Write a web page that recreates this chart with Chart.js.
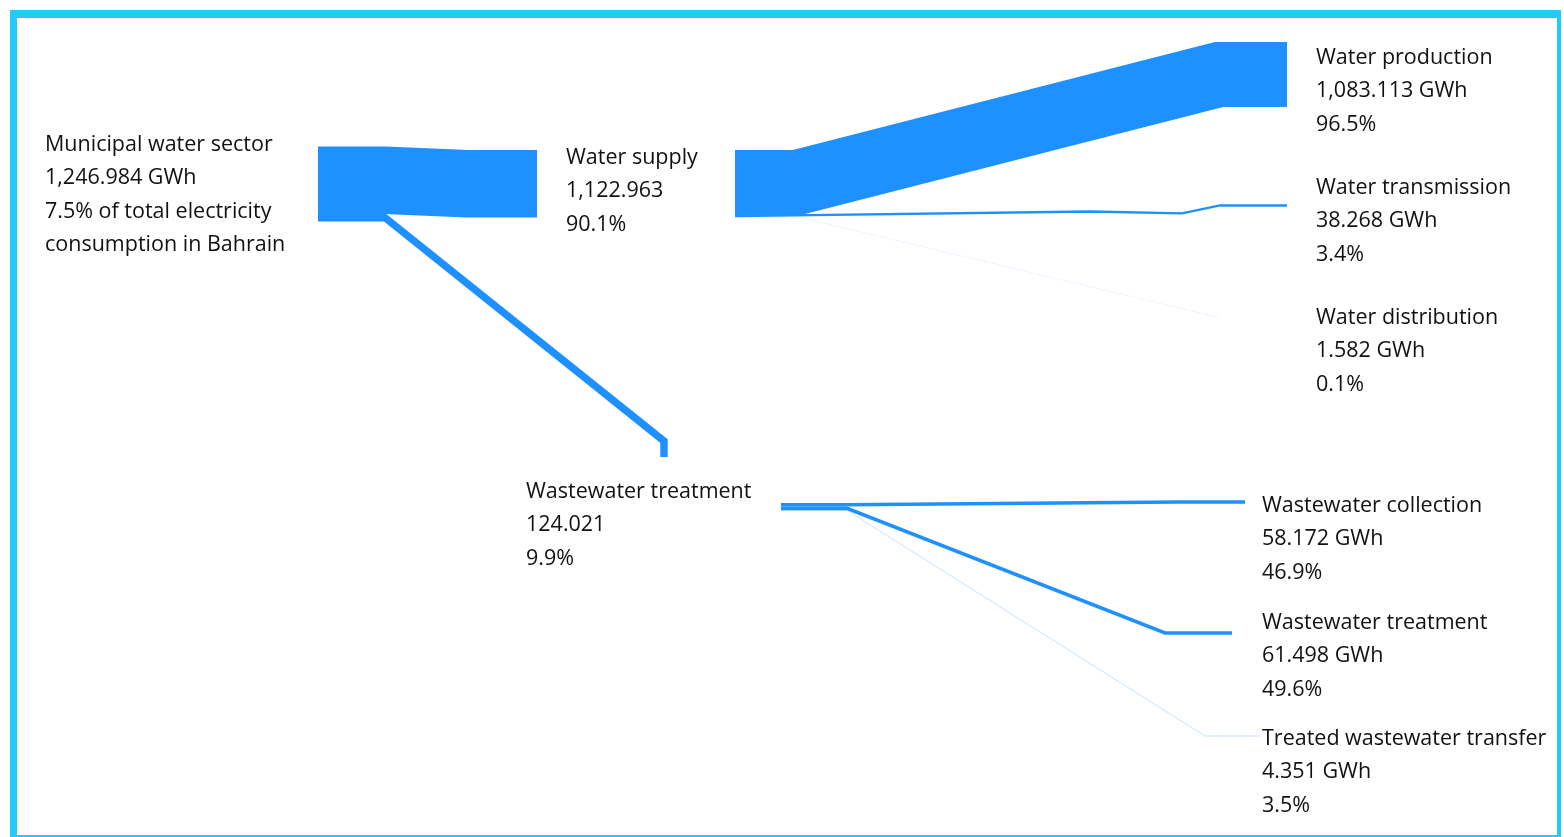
<!DOCTYPE html>
<html>
<head>
<meta charset="utf-8">
<script src="https://cdn.jsdelivr.net/npm/chart.js@4.4.0/dist/chart.umd.min.js"></script>
<style>
    html, body { margin: 0; padding: 0; background: #ffffff; overflow: hidden; }
    #wrap { position: relative; width: 1564px; height: 837px; }
    #frame {
        position: absolute; left: 10px; top: 10px; width: 1540px; height: 817px;
        border-style: solid; border-color: #22ccf8;
        border-width: 8px 4px 3px 7px;
    }
    #chart { position: absolute; left: 0; top: 0; }
</style>
</head>
<body>
<div id="wrap">
    <div id="frame"></div>
    <canvas id="chart" width="1564" height="837"></canvas>
</div>
<script>
// nodes of the flow diagram
const nodeNames = ["Municipal water sector", "Water supply", "Wastewater treatment",
                   "Water production", "Water transmission", "Water distribution",
                   "Wastewater collection", "Wastewater treatment", "Treated wastewater transfer"];
const nodeValues = [1246.984, 1122.963, 124.021, 1083.113, 38.268, 1.582, 58.172, 61.498, 4.351];
const nodeUnits = [" GWh", "", "", " GWh", " GWh", " GWh", " GWh", " GWh", " GWh"];
const nodeShares = [["7.5% of total electricity", "consumption in Bahrain"], ["90.1%"], ["9.9%"],
                    ["96.5%"], ["3.4%"], ["0.1%"], ["46.9%"], ["49.6%"], ["3.5%"]];

// links: source node -> target node, value = target's energy
const linkSource = [0, 0, 1, 1, 1, 2, 2, 2];
const linkTarget = [1, 2, 3, 4, 5, 6, 7, 8];

const W = 1564, H = 837;
const PX_PER_GWH = 0.06;
const bandColor = "#1e90ff";

// layout: where each source stacks its outgoing links, and the route each link takes afterwards
const sourceAnchor = { 0: { x: 318, top: 146.6 }, 1: { x: 735, top: 150 }, 2: { x: 781, top: 503 } };
const routes = [
    [[385, null], [467, 183.7], [537, 183.7]],
    [[385, null], [664, 441], [664, 457]],
    [[797, null], [1219, 74.5], [1287, 74.5]],
    [[1090, 211.5], [1182, 213.3], [1220, 205.5], [1287, 205.5]],
    [[800, null], [1219, 317.5]],
    [[847, null], [1178, 502], [1245, 502]],
    [[847, null], [1165, 633], [1232, 633]],
    [[847, null], [1205, 736], [1260, 736]]
];
const labelPos = [
    { x: 45, y: 151 }, { x: 566, y: 164 }, { x: 526, y: 498 },
    { x: 1316, y: 64 }, { x: 1316, y: 194 }, { x: 1316, y: 324 },
    { x: 1262, y: 512 }, { x: 1262, y: 629 }, { x: 1262, y: 745 }
];
const lineHeight = 33.3;

function buildDatasets() {
    const stackUsed = {};
    const datasets = [];
    for (let i = 0; i < linkSource.length; i++) {
        const src = linkSource[i];
        const value = nodeValues[linkTarget[i]];
        const width = value * PX_PER_GWH;
        const anchor = sourceAnchor[src];
        const used = stackUsed[src] || 0;
        const startY = anchor.top + used + width / 2;
        stackUsed[src] = used + width;

        const pts = [{ x: anchor.x, y: startY }];
        routes[i].forEach(p => pts.push({ x: p[0], y: p[1] === null ? startY : p[1] }));

        datasets.push({
            label: nodeNames[src] + " → " + nodeNames[linkTarget[i]],
            data: pts,
            showLine: true,
            borderColor: bandColor,
            backgroundColor: bandColor,
            borderWidth: width,
            borderCapStyle: "butt",
            borderJoinStyle: "miter",
            pointRadius: 0,
            pointHoverRadius: 0,
            tension: 0,
            fill: false
        });
    }
    return datasets;
}

function fmt(v) {
    return v.toLocaleString("en-US", { minimumFractionDigits: 3, maximumFractionDigits: 3 });
}

const labelPlugin = {
    id: "nodeLabels",
    afterDatasetsDraw(chart) {
        const ctx = chart.ctx;
        const xs = chart.scales.x, ys = chart.scales.y;
        ctx.save();
        ctx.font = "21.5px 'Open Sans'";
        ctx.fillStyle = "#111111";
        ctx.textAlign = "left";
        ctx.textBaseline = "alphabetic";
        for (let i = 0; i < nodeNames.length; i++) {
            const lines = [nodeNames[i], fmt(nodeValues[i]) + nodeUnits[i]].concat(nodeShares[i]);
            const px = xs.getPixelForValue(labelPos[i].x);
            lines.forEach((t, j) => {
                const py = ys.getPixelForValue(labelPos[i].y + j * lineHeight);
                ctx.fillText(t, px, py);
            });
        }
        ctx.restore();
    }
};

new Chart(document.getElementById("chart"), {
    type: "scatter",
    data: { datasets: buildDatasets() },
    options: {
        responsive: false,
        animation: false,
        layout: { padding: 0 },
        scales: {
            x: { type: "linear", min: 0, max: W, display: false },
            y: { type: "linear", min: 0, max: H, reverse: true, display: false }
        },
        plugins: {
            legend: { display: false },
            tooltip: { enabled: false }
        },
        events: []
    },
    plugins: [labelPlugin]
});
</script>
</body>
</html>
